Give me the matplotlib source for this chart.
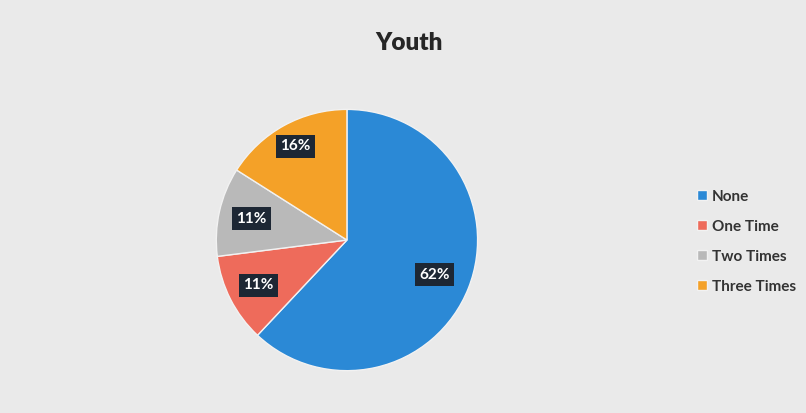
import matplotlib
matplotlib.use('Agg')
import matplotlib.pyplot as plt
import numpy as np

categories = ['None', 'One Time', 'Two Times', 'Three Times']
shares = [62, 11, 11, 16]
colors = ['#2b89d6', '#ee6b5b', '#b9b9b9', '#f4a128']

# radial position of each percentage box (fraction of radius)
label_dist = [0.72, 0.76, 0.75, 0.82]

plt.rcParams['font.family'] = ['Lato', 'DejaVu Sans']

fig = plt.figure(figsize=(8.06, 4.13), dpi=100, facecolor='#eaeaea')

# title
fig.text(0.508, 0.895, 'Youth', ha='center', va='center', fontsize=17.5,
         fontweight='heavy', color='#262626')

ax = fig.add_axes([0.2667, 0.0993, 0.3275, 0.639])
wedges, texts = ax.pie(
    shares, colors=colors, startangle=90, counterclock=False,
    wedgeprops=dict(edgecolor='#f2f2f2', linewidth=1.0),
)
for w, val, d in zip(wedges, shares, label_dist):
    mid = np.deg2rad((w.theta1 + w.theta2) / 2)
    ax.text(d * np.cos(mid), d * np.sin(mid), f'{val}%', ha='center',
            va='center', color='white', fontsize=11, fontweight='bold',
            bbox=dict(boxstyle='square,pad=0.3', facecolor='#1d2734',
                      edgecolor='none'))
ax.set_xlim(-1.01, 1.01)
ax.set_ylim(-1.01, 1.01)
ax.set_aspect('equal')

leg = fig.legend(wedges, categories, loc='center left',
                 bbox_to_anchor=(0.848, 0.415), frameon=False,
                 fontsize=11, handlelength=0.65, handleheight=0.65,
                 handletextpad=0.3, labelspacing=1.05)
for txt in leg.get_texts():
    txt.set_color('#333333')
    txt.set_fontweight('bold')

fig.savefig('out.png', dpi=100, facecolor=fig.get_facecolor())
